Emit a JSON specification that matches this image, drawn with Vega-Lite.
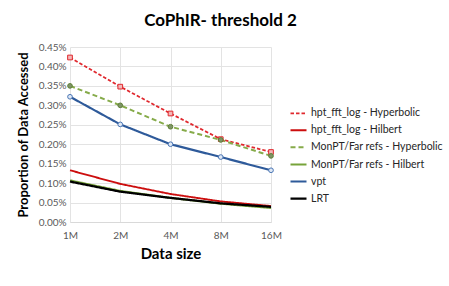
{
  "$schema": "https://vega.github.io/schema/vega-lite/v6.json",
  "width": 201,
  "height": 175,
  "autosize": "none",
  "padding": {"left": 70, "top": 47, "right": 178, "bottom": 64},
  "background": "white",
  "title": {"text": "CoPhIR- threshold 2", "font": "Lato", "fontSize": 17, "fontWeight": "bold", "color": "#000000", "anchor": "middle", "dx": 50, "offset": 12},
  "config": {"view": {"stroke": null}, "font": "Lato"},
  "data": {"values": [
    {"size": "1M", "series": "hpt_fft_log - Hyperbolic", "value": 0.00423},
    {"size": "2M", "series": "hpt_fft_log - Hyperbolic", "value": 0.00348},
    {"size": "4M", "series": "hpt_fft_log - Hyperbolic", "value": 0.00279},
    {"size": "8M", "series": "hpt_fft_log - Hyperbolic", "value": 0.00213},
    {"size": "16M", "series": "hpt_fft_log - Hyperbolic", "value": 0.00180},
    {"size": "1M", "series": "hpt_fft_log - Hilbert", "value": 0.00133},
    {"size": "2M", "series": "hpt_fft_log - Hilbert", "value": 0.00098},
    {"size": "4M", "series": "hpt_fft_log - Hilbert", "value": 0.00072},
    {"size": "8M", "series": "hpt_fft_log - Hilbert", "value": 0.00053},
    {"size": "16M", "series": "hpt_fft_log - Hilbert", "value": 0.00041},
    {"size": "1M", "series": "MonPT/Far refs - Hyperbolic", "value": 0.00350},
    {"size": "2M", "series": "MonPT/Far refs - Hyperbolic", "value": 0.00300},
    {"size": "4M", "series": "MonPT/Far refs - Hyperbolic", "value": 0.00245},
    {"size": "8M", "series": "MonPT/Far refs - Hyperbolic", "value": 0.00211},
    {"size": "16M", "series": "MonPT/Far refs - Hyperbolic", "value": 0.00170},
    {"size": "1M", "series": "MonPT/Far refs - Hilbert", "value": 0.00107},
    {"size": "2M", "series": "MonPT/Far refs - Hilbert", "value": 0.00080},
    {"size": "4M", "series": "MonPT/Far refs - Hilbert", "value": 0.00062},
    {"size": "8M", "series": "MonPT/Far refs - Hilbert", "value": 0.00047},
    {"size": "16M", "series": "MonPT/Far refs - Hilbert", "value": 0.00036},
    {"size": "1M", "series": "vpt", "value": 0.00322},
    {"size": "2M", "series": "vpt", "value": 0.00251},
    {"size": "4M", "series": "vpt", "value": 0.00200},
    {"size": "8M", "series": "vpt", "value": 0.00167},
    {"size": "16M", "series": "vpt", "value": 0.00133},
    {"size": "1M", "series": "LRT", "value": 0.00104},
    {"size": "2M", "series": "LRT", "value": 0.00078},
    {"size": "4M", "series": "LRT", "value": 0.00062},
    {"size": "8M", "series": "LRT", "value": 0.00048},
    {"size": "16M", "series": "LRT", "value": 0.00039}
  ]},
  "encoding": {
    "x": {"field": "size", "type": "ordinal", "sort": ["1M", "2M", "4M", "8M", "16M"],
      "scale": {"type": "point", "padding": 0},
      "axis": {"title": "Data size", "titleFont": "Lato", "titleFontSize": 15, "titleFontWeight": "bold", "titleColor": "#000000", "titlePadding": 6,
        "labelAngle": 0, "labelFontSize": 10, "labelColor": "#595959", "labelPadding": 8, "ticks": false,
        "grid": true, "gridColor": "#e3e3e3", "domainColor": "#d9d9d9"}},
    "y": {"field": "value", "type": "quantitative",
      "scale": {"domain": [0, 0.0045], "nice": false},
      "axis": {"values": [0, 0.0005, 0.001, 0.0015, 0.002, 0.0025, 0.003, 0.0035, 0.004, 0.0045], "format": ".2%",
        "title": "Proportion of Data Accessed", "titleFont": "Lato", "titleFontSize": 13, "titleFontWeight": "bold", "titleColor": "#000000", "titlePadding": 8,
        "labelFontSize": 10, "labelColor": "#595959", "labelPadding": 4, "ticks": false, "domain": false,
        "gridColor": "#e3e3e3"}}
  },
  "layer": [
    {
      "mark": {"type": "line", "strokeCap": "butt"},
      "encoding": {
        "color": {"field": "series", "type": "nominal",
          "sort": ["hpt_fft_log - Hyperbolic", "hpt_fft_log - Hilbert", "MonPT/Far refs - Hyperbolic", "MonPT/Far refs - Hilbert", "vpt", "LRT"],
          "scale": {"domain": ["hpt_fft_log - Hyperbolic", "hpt_fft_log - Hilbert", "MonPT/Far refs - Hyperbolic", "MonPT/Far refs - Hilbert", "vpt", "LRT"],
            "range": ["#e0282e", "#cc0e0e", "#86ab4a", "#77a33a", "#2e5a9a", "#000000"]},
          "legend": {"title": null, "orient": "none", "legendX": 223, "legendY": 61, "symbolType": "M-2,0H2", "symbolSize": 64, "symbolStrokeWidth": 2, "labelFont": "Lato", "labelFontSize": 10.5, "labelColor": "#262626", "labelOffset": 7, "rowPadding": 6, "padding": 0}},
        "strokeDash": {"field": "series", "type": "nominal",
          "sort": ["hpt_fft_log - Hyperbolic", "hpt_fft_log - Hilbert", "MonPT/Far refs - Hyperbolic", "MonPT/Far refs - Hilbert", "vpt", "LRT"],
          "scale": {"domain": ["hpt_fft_log - Hyperbolic", "hpt_fft_log - Hilbert", "MonPT/Far refs - Hyperbolic", "MonPT/Far refs - Hilbert", "vpt", "LRT"],
            "range": [[3.5, 2], [1, 0], [5, 3], [1, 0], [1, 0], [1, 0]]}},
        "strokeWidth": {"field": "series", "type": "nominal", "legend": null,
          "scale": {"domain": ["hpt_fft_log - Hyperbolic", "hpt_fft_log - Hilbert", "MonPT/Far refs - Hyperbolic", "MonPT/Far refs - Hilbert", "vpt", "LRT"],
            "range": [1.75, 2.25, 1.75, 2.25, 2.25, 2.25]}},
        "order": {"field": "value", "type": "quantitative"}
      }
    },
    {
      "transform": [{"filter": {"field": "series", "oneOf": ["hpt_fft_log - Hyperbolic", "MonPT/Far refs - Hyperbolic", "vpt"]}}],
      "mark": {"type": "point", "filled": false, "size": 22, "strokeWidth": 1, "opacity": 1},
      "encoding": {
        "shape": {"field": "series", "type": "nominal", "legend": null,
          "scale": {"domain": ["hpt_fft_log - Hyperbolic", "MonPT/Far refs - Hyperbolic", "vpt"], "range": ["square", "circle", "circle"]}},
        "stroke": {"field": "series", "type": "nominal", "legend": null,
          "scale": {"domain": ["hpt_fft_log - Hyperbolic", "MonPT/Far refs - Hyperbolic", "vpt"], "range": ["#e0282e", "#5f7f36", "#4a76b5"]}},
        "fill": {"field": "series", "type": "nominal", "legend": null,
          "scale": {"domain": ["hpt_fft_log - Hyperbolic", "MonPT/Far refs - Hyperbolic", "vpt"], "range": ["#f2b8b8", "#7e9468", "#dfe8f5"]}}
      }
    }
  ]
}
